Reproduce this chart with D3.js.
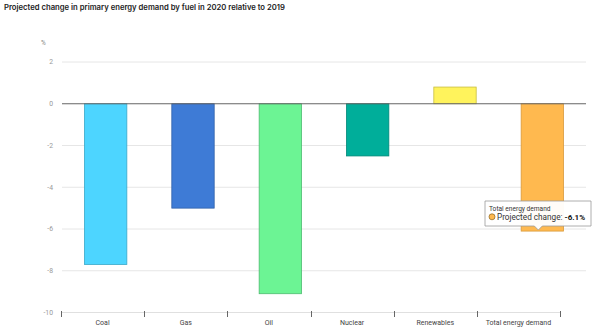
<!DOCTYPE html>
<html>
<head>
<meta charset="utf-8">
<script src="https://cdn.jsdelivr.net/npm/d3@7"></script>
<style>
  html, body { margin: 0; padding: 0; background: #fff; }
  svg { display: block; font-family: Roboto, "Open Sans", "DejaVu Sans", sans-serif; }
</style>
</head>
<body>
<svg id="chart" width="600" height="332"></svg>
<script>
const title = "Projected change in primary energy demand by fuel in 2020 relative to 2019";
const unitLabel = "%";
const categories = ["Coal", "Gas", "Oil", "Nuclear", "Renewables", "Total energy demand"];
const values = [-7.7, -5.0, -9.1, -2.5, 0.8, -6.1];
const colors = ["#4dd5ff", "#3e7bd6", "#6cf494", "#00ae9a", "#fff35c", "#ffb94f"];
const strokes = ["#3aa8c9", "#2f5fa8", "#4dbb70", "#008878", "#c8bf40", "#d99a3c"];
const yTicks = [2, 0, -2, -4, -6, -8, -10];
const tooltipTitle = "Total energy demand";
const tooltipLabel = "Projected change: ";
const tooltipValue = "-6.1%";
const tooltipIndex = 5;

const svg = d3.select("#chart");

const y = d3.scaleLinear().domain([-10, 2]).range([312.5, 62]);
const xBars = d3.scaleBand().domain(categories).range([62, 586]).paddingInner(0.515).paddingOuter(0.2575);
const xAxis = d3.scaleBand().domain(categories).range([61, 560]);

// title
svg.append("text")
  .attr("x", 4).attr("y", 10)
  .attr("font-family", "Inter, Roboto, sans-serif")
  .attr("font-size", 7.7).attr("font-weight", 600).attr("fill", "#222")
  .text(title);

// unit
svg.append("text")
  .attr("x", 41).attr("y", 45)
  .attr("font-size", 6.5).attr("fill", "#888")
  .text(unitLabel);

// grid
svg.append("g").selectAll("line")
  .data(yTicks.filter(d => d !== 0 && d !== -10))
  .join("line")
  .attr("x1", 62).attr("x2", 586)
  .attr("y1", d => y(d)).attr("y2", d => y(d))
  .attr("stroke", "#e6e6e6").attr("stroke-width", 1);

// y labels
svg.append("g").selectAll("text")
  .data(yTicks)
  .join("text")
  .attr("x", 53).attr("y", d => y(d) + 2.3)
  .attr("text-anchor", "end")
  .attr("font-size", 6.8).attr("fill", "#999")
  .text(d => d);

// bottom axis
const gx = svg.append("g").attr("transform", `translate(0,${y(-10)})`)
  .call(d3.axisBottom(xAxis).tickSize(0).tickPadding(8));
gx.select(".domain").attr("stroke", "#e0e0e0").attr("d", `M${xAxis.range()[0]},0H${xAxis.range()[1]}`);
gx.selectAll(".tick text").attr("font-size", 7.0).attr("fill", "#444")
  .attr("font-family", "Roboto, 'Open Sans', 'DejaVu Sans', sans-serif");
// tick marks at band boundaries
const bounds = categories.map(c => xAxis(c)).concat([xAxis.range()[1]]);
gx.append("g").selectAll("line").data(bounds).join("line")
  .attr("x1", d => Math.round(d) + 0.5).attr("x2", d => Math.round(d) + 0.5)
  .attr("y1", -1.5).attr("y2", 4.5)
  .attr("stroke", "#666").attr("stroke-width", 1);

// bars
svg.append("g").selectAll("rect")
  .data(values)
  .join("rect")
  .attr("x", (d, i) => xBars(categories[i]))
  .attr("width", xBars.bandwidth())
  .attr("y", d => y(Math.max(0, d)))
  .attr("height", d => Math.abs(y(d) - y(0)))
  .attr("fill", (d, i) => colors[i])
  .attr("stroke", (d, i) => strokes[i])
  .attr("stroke-width", 0.8);

// zero line
svg.append("line")
  .attr("x1", 62).attr("x2", 586)
  .attr("y1", y(0)).attr("y2", y(0))
  .attr("stroke", "#666").attr("stroke-width", 1);

// tooltip
const tipCx = xBars(categories[tooltipIndex]) + xBars.bandwidth() / 2 - 4;
const tipTop = 201, tipBottom = 226, tipLeft = 485, tipRight = 591;
const tip = svg.append("g");
tip.append("path")
  .attr("d", `M${tipLeft},${tipTop}H${tipRight}V${tipBottom}H${tipCx + 4}L${tipCx},${tipBottom + 4}L${tipCx - 4},${tipBottom}H${tipLeft}Z`)
  .attr("fill", "rgba(255,255,255,0.96)")
  .attr("stroke", "#999").attr("stroke-width", 0.8);
tip.append("text")
  .attr("x", 489).attr("y", 211)
  .attr("font-size", 6.6).attr("fill", "#333")
  .text(tooltipTitle);
tip.append("circle")
  .attr("cx", 492).attr("cy", 216.8).attr("r", 3)
  .attr("fill", colors[tooltipIndex]).attr("stroke", "#8a6420").attr("stroke-width", 0.7);
const t2 = tip.append("text")
  .attr("x", 497).attr("y", 220)
  .attr("font-size", 8.2).attr("fill", "#333");
t2.append("tspan").text(tooltipLabel);
t2.append("tspan").attr("font-weight", 700).attr("font-size", 8).attr("fill", "#111").text(tooltipValue);
</script>
</body>
</html>
